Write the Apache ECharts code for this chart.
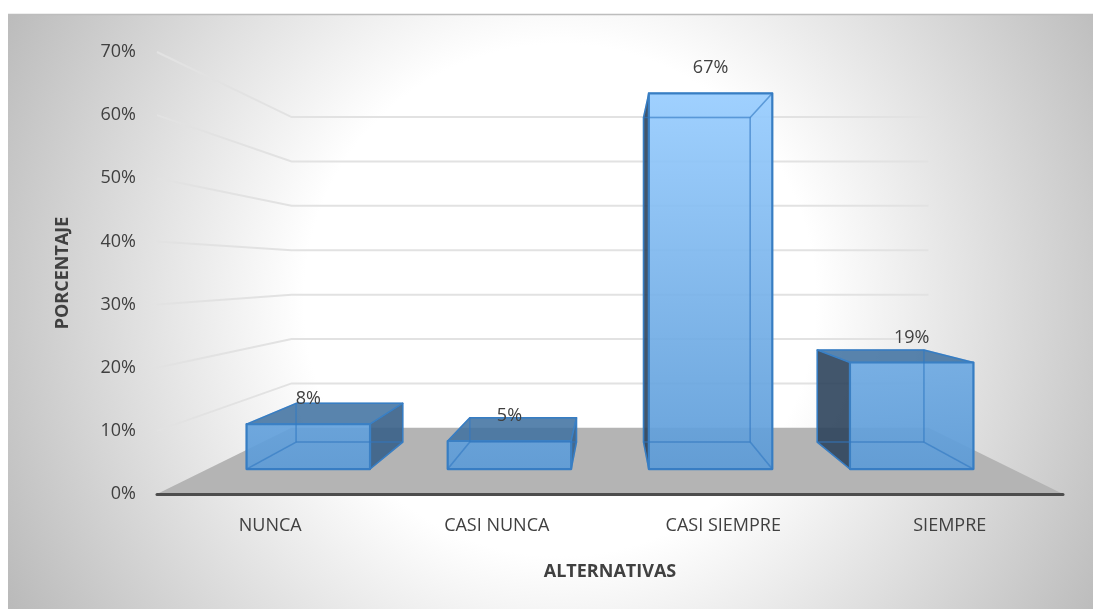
<!DOCTYPE html>
<html>
<head>
<meta charset="utf-8">
<style>html,body{margin:0;padding:0;background:#fff}#chart{width:1093px;height:609px}</style>
<script src="https://cdn.jsdelivr.net/npm/echarts@6/dist/echarts.min.js"></script>
</head>
<body>
<div id="chart"></div>
<script>
// Survey responses, percent of answers per alternative
const categories = ['NUNCA', 'CASI NUNCA', 'CASI SIEMPRE', 'SIEMPRE'];
const percentages = [8, 5, 67, 19];
const wallLevels = [0, 10, 20, 30, 40, 50, 60, 70];

// Perspective: points shrink toward the eye level by a depth factor
const EYE_LEVEL = 35.3;
const WALL_DEPTH = 0.703;
const BAR_FRONT_DEPTH = 0.888;
const BAR_BACK_DEPTH = 0.767;
const BAR_BAND_SHARE = 0.614;

const FONT = '"Open Sans", "Noto Sans", sans-serif';
const TEXT_COLOR = '#404040';

function projector(api, coordSys) {
  const vx = coordSys.x + coordSys.width / 2;
  const vy = api.coord([0, EYE_LEVEL])[1];
  return (x, y, depth) => [vx + depth * (x - vx), vy + depth * (y - vy)];
}

// Back wall, left wall and floor
function renderWall(params, api) {
  const cs = params.coordSys;
  const level = api.value(1);
  const project = projector(api, cs);
  const y = api.coord([0, level])[1];
  const left = cs.x, right = cs.x + cs.width;
  if (level === 0) {
    return {
      type: 'polygon',
      shape: { points: [[left, y], [right, y], project(right, y, WALL_DEPTH), project(left, y, WALL_DEPTH)] },
      style: { fill: '#b4b4b4' }
    };
  }
  return {
    type: 'polyline',
    shape: { points: [[left, y], project(left, y, WALL_DEPTH), project(right, y, WALL_DEPTH)] },
    style: { fill: 'none', stroke: '#e2e2e2', lineWidth: 2 }
  };
}

const frontFill = new echarts.graphic.LinearGradient(0, 90, 0, 470, [
  { offset: 0, color: 'rgba(152,205,255,0.92)' },
  { offset: 1, color: 'rgba(92,155,215,0.92)' }
], true);

function face(points, fill, stroke, width) {
  return {
    type: 'polygon',
    shape: { points },
    style: { fill: fill || 'none', stroke: stroke || 'none', lineWidth: width || 0, lineJoin: 'round' }
  };
}

// One translucent box, faces painted back to front
function renderBar(params, api) {
  const cs = params.coordSys;
  const value = api.value(1);
  const project = projector(api, cs);
  const cx = api.coord([api.value(0), 0])[0];
  const half = api.size([1, 0])[0] * BAR_BAND_SHARE / 2;
  const y0 = api.coord([0, 0])[1];
  const y1 = api.coord([0, value])[1];
  const vx = cs.x + cs.width / 2;
  const vy = api.coord([0, EYE_LEVEL])[1];
  const xl = cx - half, xr = cx + half;

  const f = (x, y) => project(x, y, BAR_FRONT_DEPTH);
  const b = (x, y) => project(x, y, BAR_BACK_DEPTH);

  const edge = '#3b80c4';
  const inner = 'rgba(50,120,195,0.38)';
  const leftSeen = xl > vx, rightSeen = xr < vx, topSeen = y1 > vy;

  const backFace = [b(xl, y0), b(xr, y0), b(xr, y1), b(xl, y1)];
  const floorFace = [f(xl, y0), f(xr, y0), b(xr, y0), b(xl, y0)];
  const leftFace = [f(xl, y0), b(xl, y0), b(xl, y1), f(xl, y1)];
  const rightFace = [f(xr, y0), b(xr, y0), b(xr, y1), f(xr, y1)];
  const topFace = [f(xl, y1), f(xr, y1), b(xr, y1), b(xl, y1)];
  const frontFace = [f(xl, y0), f(xr, y0), f(xr, y1), f(xl, y1)];

  const children = [];
  if (topSeen) children.push(face(topFace, 'rgba(62,112,160,0.86)', edge, 1.5));
  if (leftSeen) children.push(face(leftFace, 'rgba(46,68,92,0.9)', edge, 1.5));
  if (rightSeen) children.push(face(rightFace, 'rgba(56,96,136,0.9)', edge, 1.5));
  children.push(face(frontFace, frontFill, edge, 2.2));
  // Hidden edges show faintly through the front
  children.push(face(backFace, null, inner, 1.5));
  children.push(face(floorFace, null, inner, 1.5));
  if (!leftSeen) children.push(face(leftFace, null, inner, 1.5));
  if (!rightSeen) children.push(face(rightFace, null, inner, 1.5));
  if (!topSeen) children.push(face(topFace, null, inner, 1.5));

  const top = f(cx, y1);
  children.push({
    type: 'text',
    style: {
      text: value + '%',
      x: top[0], y: top[1] - 25,
      align: 'center', verticalAlign: 'middle',
      fill: TEXT_COLOR, fontSize: 18, fontFamily: FONT
    }
  });
  return { type: 'group', children };
}

const chart = echarts.init(document.getElementById('chart'), null, { renderer: 'canvas' });
chart.setOption({
  animation: false,
  backgroundColor: '#ffffff',
  graphic: {
    elements: [{
      type: 'rect', z: -100, silent: true,
      shape: { x: 8, y: 15, width: 1085, height: 594 },
      style: {
        fill: new echarts.graphic.RadialGradient(560, 300, 640, [
          { offset: 0, color: '#ffffff' },
          { offset: 0.4, color: '#ffffff' },
          { offset: 1, color: '#b8b8b8' }
        ], true)
      }
    }, {
      type: 'line', z: -99, silent: true,
      shape: { x1: 8, y1: 14.5, x2: 1093, y2: 14.5 },
      style: { stroke: '#bdbdbd', lineWidth: 1.5 }
    }]
  },
  grid: { left: 157, right: 30, top: 52, bottom: 115 },
  xAxis: {
    type: 'category',
    data: categories,
    name: 'ALTERNATIVAS',
    nameLocation: 'middle',
    nameGap: 69,
    nameTextStyle: { color: TEXT_COLOR, fontSize: 18, fontWeight: 'bold', fontFamily: FONT },
    axisTick: { show: false },
    axisLine: { show: true, lineStyle: { color: '#4d4d4d', width: 3 } },
    axisLabel: { color: TEXT_COLOR, fontSize: 18, fontFamily: FONT, margin: 23 },
    z: 3
  },
  yAxis: {
    type: 'value',
    min: 0,
    max: 70,
    interval: 10,
    name: 'PORCENTAJE',
    nameLocation: 'middle',
    nameGap: 85,
    nameTextStyle: { color: TEXT_COLOR, fontSize: 18, fontWeight: 'bold', fontFamily: FONT },
    splitLine: { show: false },
    axisTick: { show: false },
    axisLine: { show: false },
    axisLabel: { color: TEXT_COLOR, fontSize: 18, fontFamily: FONT, margin: 21, formatter: '{value}%' }
  },
  series: [
    {
      type: 'custom',
      z: 1,
      silent: true,
      renderItem: renderWall,
      encode: { x: 0, y: 1 },
      data: wallLevels.map(l => [0, l])
    },
    {
      type: 'custom',
      z: 4,
      renderItem: renderBar,
      encode: { x: 0, y: 1 },
      data: percentages.map((v, i) => [i, v])
    }
  ]
});
</script>
</body>
</html>
